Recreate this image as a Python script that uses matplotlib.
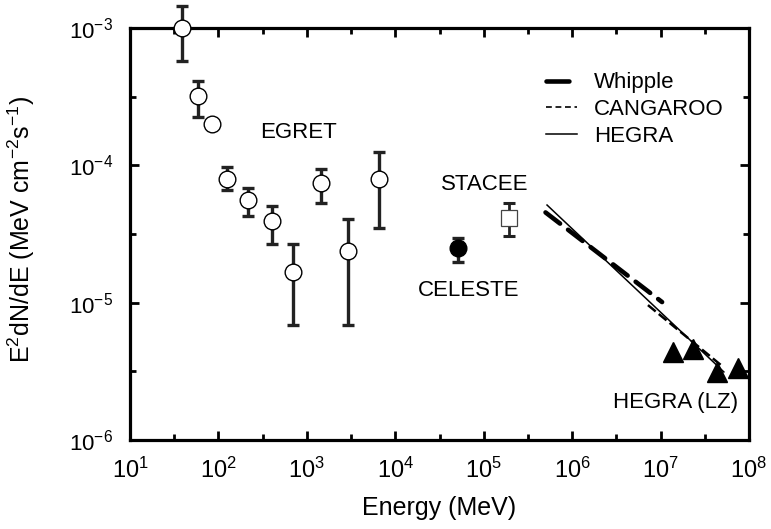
import numpy as np
import matplotlib
matplotlib.use('Agg')
import matplotlib.pyplot as plt
from matplotlib.lines import Line2D
from matplotlib.ticker import FixedLocator, NullFormatter, LogFormatterSciNotation

plt.rcParams['font.family'] = ['Liberation Sans', 'DejaVu Sans']
plt.rcParams['mathtext.fontset'] = 'custom'
plt.rcParams['mathtext.rm'] = 'Liberation Sans'
plt.rcParams['mathtext.it'] = 'Liberation Sans'
plt.rcParams['mathtext.default'] = 'regular'
plt.rcParams['axes.unicode_minus'] = False

# EGRET points (MeV, MeV cm^-2 s^-1); nan = no error bar
egret_e = [38.5, 59, 84, 124, 214, 400, 703, 1445, 2944, 6600]
egret_f = [1.0e-3, 3.2e-4, 2.0e-4, 8.0e-5, 5.6e-5, 3.9e-5, 1.68e-5, 7.4e-5, 2.38e-5, 7.95e-5]
egret_hi = [1.44e-3, 4.1e-4, np.nan, 9.7e-5, 6.8e-5, 5.06e-5, 2.66e-5, 9.35e-5, 4.07e-5, 1.26e-4]
egret_lo = [5.75e-4, 2.26e-4, np.nan, 6.6e-5, 4.28e-5, 2.66e-5, 6.88e-6, 5.35e-5, 6.88e-6, 3.48e-5]

celeste_e = [5.08e4]
celeste_f = [2.51e-5]
celeste_hi = [2.94e-5]
celeste_lo = [1.97e-5]

stacee_e = [1.95e5]
stacee_f = [4.11e-5]
stacee_hi = [5.29e-5]
stacee_lo = [3.06e-5]

hegra_lz_e = [1.38e7, 2.33e7, 4.4e7, 7.5e7]
hegra_lz_f = [4.4e-6, 4.63e-6, 3.15e-6, 3.32e-6]

# fitted spectra
whipple_e = [5.0e5, 1.04e7]
whipple_f = [4.54e-5, 1.01e-5]
cangaroo_e = [7.2e6, 4.95e7]
cangaroo_f = [9.6e-6, 3.46e-6]
hegra_e = [5.2e5, 5.2e7]
hegra_f = [5.14e-5, 3.13e-6]

fig = plt.figure(figsize=(7.71, 5.29), dpi=100)
ax = fig.add_axes([130/771, 1-440/529, 619/771, 412/529])
ax.set_xscale('log')
ax.set_yscale('log')
ax.set_xlim(10, 1e8)
ax.set_ylim(1e-6, 1e-3)

ebar_col = '#222222'

# EGRET
ee = np.array(egret_e); ef = np.array(egret_f)
hi = np.array(egret_hi); lo = np.array(egret_lo)
m = ~np.isnan(hi)
eb = ax.errorbar(ee[m], ef[m], yerr=[ef[m]-lo[m], hi[m]-ef[m]], fmt='none',
                 ecolor=ebar_col, elinewidth=2.4, capsize=4.3, capthick=2.4, zorder=2)
for art in eb.get_children():
    art.set_clip_on(False)
ax.plot(ee, ef, 'o', ms=12, mfc='white', mec='black', mew=1.0, zorder=3, clip_on=False)

# CELESTE
cf = np.array(celeste_f)
ax.errorbar(celeste_e, celeste_f, yerr=[cf-np.array(celeste_lo), np.array(celeste_hi)-cf],
            fmt='none', ecolor=ebar_col, elinewidth=2.4, capsize=4.3, capthick=2.4, zorder=2)
ax.plot(celeste_e, celeste_f, 'o', ms=12, mfc='black', mec='black', zorder=3)

# STACEE
sf = np.array(stacee_f)
ax.errorbar(stacee_e, stacee_f, yerr=[sf-np.array(stacee_lo), np.array(stacee_hi)-sf],
            fmt='none', ecolor=ebar_col, elinewidth=2.0, capsize=4.3, capthick=2.2, zorder=2)
ax.plot(stacee_e, stacee_f, 's', ms=12, mfc='white', mec='#444444', mew=0.9, zorder=3)

# spectra lines
ax.plot(whipple_e, whipple_f, color='black', lw=3.3, dashes=(4, 2.2),
        dash_capstyle='round', zorder=4)
ax.plot(cangaroo_e, cangaroo_f, color='black', lw=1.8, dashes=(4, 1.6), zorder=4)
ax.plot(hegra_e, hegra_f, color='black', lw=1.1, zorder=4)

# HEGRA (LZ) points
ax.plot(hegra_lz_e, hegra_lz_f, '^', ms=14, color='black', zorder=5, clip_on=False)

# labels
tfs = 16
ax.text(795, 1.72e-4, 'EGRET', fontsize=tfs, ha='center', va='center')
ax.text(1.03e5, 7.31e-5, 'STACEE', fontsize=tfs, ha='center', va='center')
ax.text(6.8e4, 1.23e-5, 'CELESTE', fontsize=tfs, ha='center', va='center')
ax.text(1.49e7, 1.87e-6, 'HEGRA (LZ)', fontsize=tfs, ha='center', va='center')

handles = [
    Line2D([], [], color='black', lw=3.3, dashes=(5, 3), dash_capstyle='round'),
    Line2D([], [], color='black', lw=1.2, dashes=(3.5, 2.2)),
    Line2D([], [], color='black', lw=1.1),
]
ax.legend(handles, ['Whipple', 'CANGAROO', 'HEGRA'], loc='upper left',
          bbox_to_anchor=(0.672, 0.892), frameon=False, fontsize=16,
          handlelength=1.4, handletextpad=0.75, labelspacing=0.25,
          borderpad=0, borderaxespad=0)

# axes styling
for s in ax.spines.values():
    s.set_linewidth(2.3)
major_x = [10.0**k for k in range(1, 9)]
minor_x = [10.0**(k+0.5) for k in range(1, 8)]
major_y = [10.0**k for k in range(-6, -2)]
minor_y = [10.0**(k+0.5) for k in range(-6, -3)]
ax.xaxis.set_major_locator(FixedLocator(major_x))
ax.xaxis.set_minor_locator(FixedLocator(minor_x))
ax.yaxis.set_major_locator(FixedLocator(major_y))
ax.yaxis.set_minor_locator(FixedLocator(minor_y))
ax.xaxis.set_major_formatter(LogFormatterSciNotation())
ax.yaxis.set_major_formatter(LogFormatterSciNotation())
ax.xaxis.set_minor_formatter(NullFormatter())
ax.yaxis.set_minor_formatter(NullFormatter())
ax.tick_params(which='both', direction='in', top=True, right=True, width=2.0)
ax.tick_params(which='major', length=6.5)
ax.tick_params(which='minor', length=4)
ax.tick_params(axis='x', which='major', labelsize=17, pad=13)
ax.tick_params(axis='y', which='major', labelsize=16, pad=12)

ax.set_xlabel('Energy (MeV)', fontsize=18)
ax.set_ylabel('E$^{2}$dN/dE (MeV cm$^{-2}$s$^{-1}$)', fontsize=18)
ax.xaxis.set_label_coords(0.5, -0.135)
ax.yaxis.set_label_coords(-0.15, 0.51)

fig.savefig('out.png', dpi=100)
